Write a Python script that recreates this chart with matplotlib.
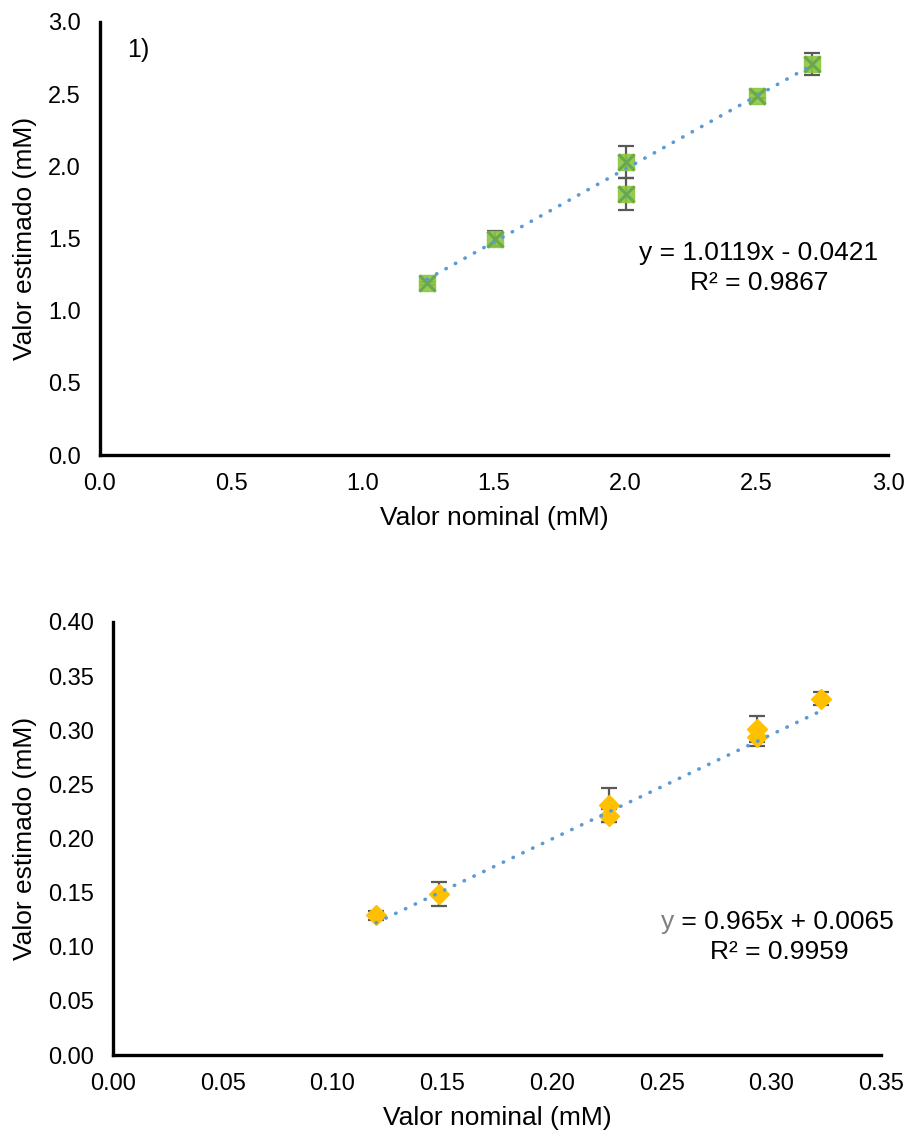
import matplotlib
matplotlib.use("Agg")
import matplotlib.pyplot as plt
import numpy as np

plt.rcParams['font.family'] = ['Liberation Sans', 'DejaVu Sans']

# ---- Data: chart 1 ----
x1 = [1.245, 1.504, 2.002, 2.002, 2.50, 2.71]
y1 = [1.19, 1.50, 2.03, 1.81, 2.49, 2.71]
e1 = [0.01, 0.05, 0.11, 0.11, 0.02, 0.075]
slope1, inter1 = 1.0119, -0.0421
eq1 = "y = 1.0119x - 0.0421"
r2_1 = "R² = 0.9867"
xt1 = [0.0, 0.5, 1.0, 1.5, 2.0, 2.5, 3.0]
yt1 = [0.0, 0.5, 1.0, 1.5, 2.0, 2.5, 3.0]

# ---- Data: chart 2 ----
x2 = [0.1199, 0.1486, 0.2259, 0.2259, 0.2936, 0.2936, 0.3226]
y2 = [0.129, 0.149, 0.231, 0.221, 0.301, 0.2935, 0.329]
e2 = [0.004, 0.011, 0.016, 0.006, 0.012, 0.008, 0.006]
slope2, inter2 = 0.965, 0.0065
eq2_rest = " = 0.965x + 0.0065"
r2_2 = "R² = 0.9959"
xt2 = [0.00, 0.05, 0.10, 0.15, 0.20, 0.25, 0.30, 0.35]
yt2 = [0.00, 0.05, 0.10, 0.15, 0.20, 0.25, 0.30, 0.35, 0.40]

W, H = 909, 1135
fig = plt.figure(figsize=(W / 100, H / 100), dpi=100)

def px_axes(l, t, r, b):
    return fig.add_axes([l / W, 1 - b / H, (r - l) / W, (b - t) / H])

ax1 = px_axes(100, 22, 888, 455)
ax2 = px_axes(113, 622, 881, 1055)

trend_col = '#5B9BD5'
err_col = '#595959'

def style(ax, xt, yt, fmt):
    for s in ['top', 'right']:
        ax.spines[s].set_visible(False)
    for s in ['left', 'bottom']:
        ax.spines[s].set_linewidth(2.4)
        ax.spines[s].set_color('black')
    ax.set_xlim(xt[0], xt[-1])
    ax.set_ylim(yt[0], yt[-1])
    ax.set_xticks(xt)
    ax.set_yticks(yt)
    ax.set_xticklabels([fmt.format(v) for v in xt])
    ax.set_yticklabels([fmt.format(v) for v in yt])
    ax.tick_params(axis='both', length=0, labelsize=17, colors='black')
    ax.tick_params(axis='x', pad=13)
    ax.tick_params(axis='y', pad=14)
    ax.set_xlabel('Valor nominal (mM)', fontsize=19, labelpad=8)
    ax.set_ylabel('Valor estimado (mM)', fontsize=19, labelpad=8)

style(ax1, xt1, yt1, '{:.1f}')
style(ax2, xt2, yt2, '{:.2f}')

dots = (0, (0.1, 2.9))

# chart 1 marks
ax1.errorbar(x1, y1, yerr=e1, fmt='none', ecolor=err_col, elinewidth=1.6,
             capsize=6, capthick=1.6, zorder=2, clip_on=False)
ax1.plot(x1, y1, 's', ms=12, mfc='#8DC63F', mec='#8DC63F', alpha=0.9,
         zorder=3, clip_on=False)
ax1.plot(x1, y1, 'x', ms=11, mec='#6AA84F', mew=2.2, zorder=4, clip_on=False)
xx1 = np.array([min(x1), max(x1)])
ax1.plot(xx1, slope1 * xx1 + inter1, color=trend_col, lw=2.6,
         linestyle=dots, dash_capstyle='round', zorder=5)
fig.text(127 / W, 1 - 50 / H, '1)', fontsize=18, va='center', ha='left')
fig.text(759 / W, 1 - 253 / H, eq1, fontsize=19, ha='center', va='center')
fig.text(759 / W, 1 - 283 / H, r2_1, fontsize=19, ha='center', va='center')

# chart 2 marks
ax2.errorbar(x2, y2, yerr=e2, fmt='none', ecolor=err_col, elinewidth=1.6,
             capsize=6, capthick=1.6, zorder=2, clip_on=False)
ax2.plot(x2, y2, 'D', ms=10.5, mfc='#FFC000', mec='#FFC000', zorder=3,
         clip_on=False)
xx2 = np.array([min(x2), max(x2)])
ax2.plot(xx2, slope2 * xx2 + inter2, color=trend_col, lw=2.6,
         linestyle=dots, dash_capstyle='round', zorder=5)
t_y = fig.text(661 / W, 1 - 922 / H, 'y', fontsize=19, color='#7F7F7F',
               ha='left', va='center')
ax2.annotate(eq2_rest, xy=(1, 0), xycoords=t_y, ha='left', va='bottom',
             fontsize=19, color='black', annotation_clip=False)
fig.text(779 / W, 1 - 952 / H, r2_2, fontsize=19, ha='center', va='center')

fig.savefig('out.png', dpi=100)
